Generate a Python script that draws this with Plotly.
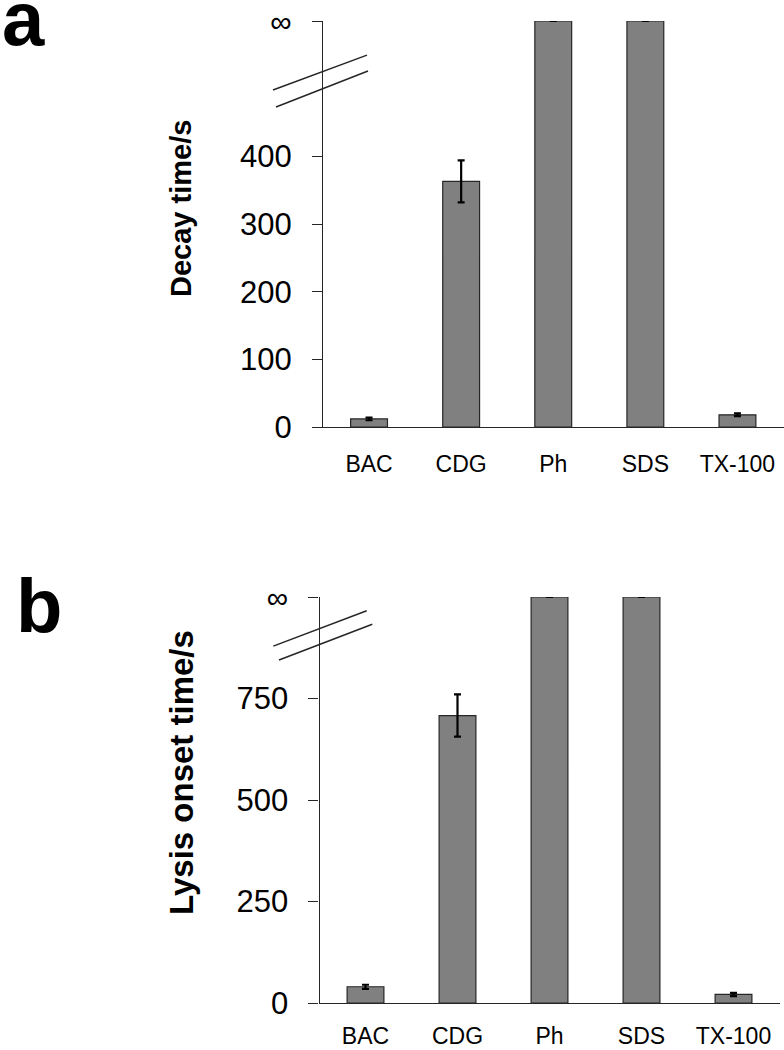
import plotly.graph_objects as go
import math

W, H = 784, 1050

categories = ["BAC", "CDG", "Ph", "SDS", "TX-100"]
INF = float("inf")

# Panel a: decay time (s)
decay_vals = [12, 363, INF, INF, 18]
decay_err = [2, 31, 0, 0, 2]
decay_ticks = [0, 100, 200, 300, 400]
decay_top = 600  # position of the "∞" tick on the broken axis

# Panel b: lysis onset time (s)
lysis_vals = [40, 708, INF, INF, 21]
lysis_err = [5, 52, 0, 0, 4]
lysis_ticks = [0, 250, 500, 750]
lysis_top = 1000

BAR_FILL = "#808080"
LINE = "#262626"
FONT = "Liberation Sans, Arial, sans-serif"


def clip_inf(vals, top):
    return [top if math.isinf(v) else v for v in vals]


fig = go.Figure()

for vals, err, top, xa, ya in [
    (decay_vals, decay_err, decay_top, "x", "y"),
    (lysis_vals, lysis_err, lysis_top, "x2", "y2"),
]:
    fig.add_trace(go.Bar(
        x=categories, y=clip_inf(vals, top),
        width=0.4,
        marker=dict(color=BAR_FILL, line=dict(color=LINE, width=1.2)),
        error_y=dict(type="data", array=err, visible=True,
                     color="#000000", thickness=2.2, width=3.5),
        xaxis=xa, yaxis=ya, showlegend=False, cliponaxis=False,
    ))

px = lambda v: v / W
py = lambda v: 1 - v / H

xcommon = dict(type="category", range=[-0.5, 4.5], showline=True, linecolor=LINE,
               linewidth=1.3, ticks="", showgrid=False, zeroline=False,
               tickfont=dict(family=FONT, size=23, color="#000"),
               automargin=False, fixedrange=True)
ycommon = dict(showline=True, linecolor=LINE, linewidth=1.3, ticks="outside",
               ticklen=10, tickwidth=1.3, tickcolor=LINE, showgrid=False,
               zeroline=False, tickfont=dict(family=FONT, size=31, color="#000"),
               ticklabelstandoff=14, automargin=False, fixedrange=True)

inf_label = "<span style='font-size:30px'>∞</span>"

fig.update_layout(
    width=W, height=H,
    margin=dict(l=0, r=0, t=0, b=0),
    paper_bgcolor="white", plot_bgcolor="white",
    xaxis=dict(domain=[px(323), px(783.5)], anchor="y", ticklabelstandoff=16, **xcommon),
    yaxis=dict(domain=[py(427), py(21)], anchor="x", range=[0, decay_top],
               tickvals=decay_ticks + [decay_top],
               ticktext=[str(t) for t in decay_ticks] + [inf_label], **ycommon),
    xaxis2=dict(domain=[px(319.5), px(779.5)], anchor="y2", ticklabelstandoff=12, **xcommon),
    yaxis2=dict(domain=[py(1003), py(597)], anchor="x2", range=[0, lysis_top],
                tickvals=lysis_ticks + [lysis_top],
                ticktext=[str(t) for t in lysis_ticks] + [inf_label], **ycommon),
    bargap=0.6,
)

# axis-break marks (two parallel diagonal strokes on each y axis)
breaks = [
    ("x domain", "y domain", [(-0.1086, 0.830, 0.0955, 0.916), (-0.102, 0.788, 0.0977, 0.877)]),
    ("x2 domain", "y2 domain", [(-0.1004, 0.879, 0.1026, 0.966), (-0.088, 0.845, 0.1148, 0.933)]),
]
for xr, yr, segs in breaks:
    for x0, y0, x1, y1 in segs:
        fig.add_shape(type="line", xref=xr, yref=yr, x0=x0, y0=y0, x1=x1, y1=y1,
                      line=dict(color=LINE, width=1.5))

# axis titles and panel letters
fig.add_annotation(text="<b>Decay time/s</b>", textangle=-90, xref="paper", yref="paper",
                   x=px(181), y=py(209), xanchor="center", yanchor="middle", showarrow=False,
                   font=dict(family=FONT, size=29, color="#000"))
fig.add_annotation(text="<b>Lysis onset time/s</b>", textangle=-90, xref="paper", yref="paper",
                   x=px(181), y=py(773), xanchor="center", yanchor="middle", showarrow=False,
                   font=dict(family=FONT, size=33, color="#000"))
fig.add_annotation(text="<b>a</b>", xref="paper", yref="paper", x=px(0), y=py(-26),
                   xanchor="left", yanchor="top", showarrow=False,
                   font=dict(family=FONT, size=76, color="#000"))
fig.add_annotation(text="<b>b</b>", xref="paper", yref="paper", x=px(14), y=py(561),
                   xanchor="left", yanchor="top", showarrow=False,
                   font=dict(family=FONT, size=76, color="#000"))

fig.write_html("out.html", config={"displayModeBar": False},
               post_script="document.body.style.margin='0';document.body.style.overflow='hidden';")
